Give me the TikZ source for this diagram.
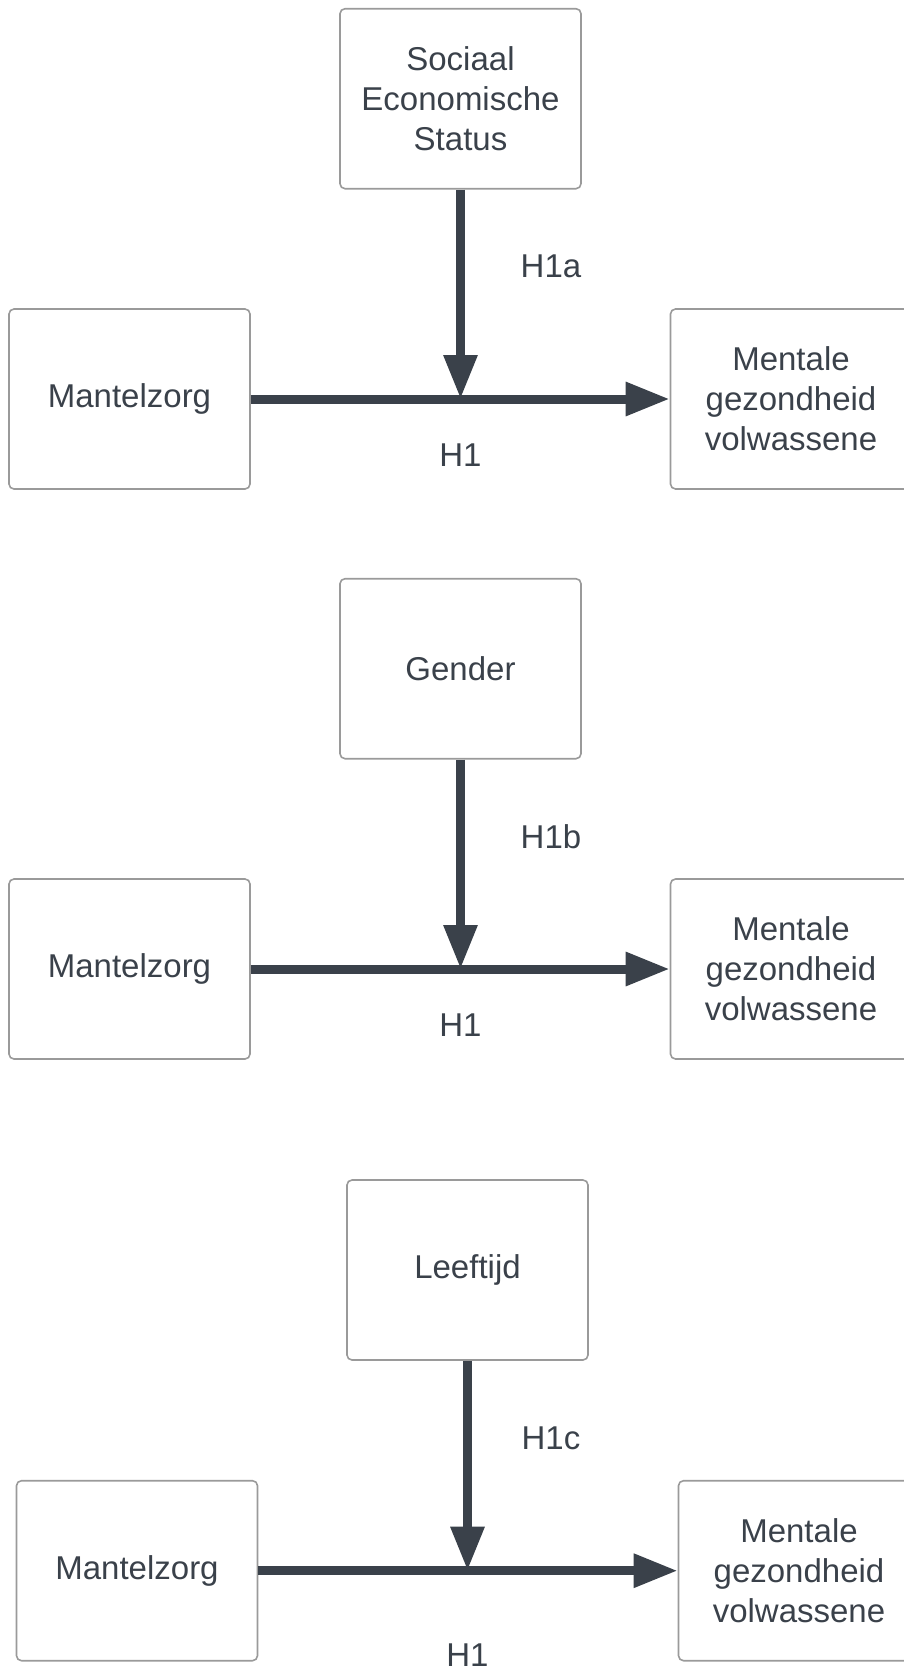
\documentclass[tikz,border=0pt]{standalone}
\usepackage{fontspec}
\setmainfont{Liberation Sans}
\usetikzlibrary{arrows.meta}

\definecolor{ink}{HTML}{3A414A}
\definecolor{rim}{HTML}{9A9A9A}

\tikzset{
  box/.style={draw=rim, line width=0.8pt, rounded corners=2.5pt, minimum width=120.5pt, minimum height=90pt, inner sep=0pt, align=center, text=ink, font=\fontsize{16.5}{20}\selectfont},
  lbl/.style={text=ink, font=\fontsize{16.5}{20}\selectfont},
  link/.style={draw=ink, line width=4.5pt, -{Triangle[length=22pt,width=16pt]}}
}

\begin{document}
\begin{tikzpicture}[x=0.5pt,y=-0.5pt]

\useasboundingbox (0,0) rectangle (904,1671);

\node[box] (mod_1) at (460.5,98.7) {Sociaal\\Economische\\Status};
\node[box] (mz_1) at (129.5,399) {Mantelzorg};
\node[box] (mg_1) at (791,399) {Mentale\\gezondheid\\volwassene};
\coordinate (x_1) at (mod_1.south |- mz_1.east);
\draw[link] (mz_1.east) -- (mg_1.west);
\draw[link] (mod_1.south) -- (x_1);
\node[lbl] (h_1a) at (551,266.5) {H1a};
\node[lbl] (h_1) at (460.5,455) {H1};

\node[box] (mod_2) at (460.5,668.7) {Gender};
\node[box] (mz_2) at (129.5,969) {Mantelzorg};
\node[box] (mg_2) at (791,969) {Mentale\\gezondheid\\volwassene};
\coordinate (x_2) at (mod_2.south |- mz_2.east);
\draw[link] (mz_2.east) -- (mg_2.west);
\draw[link] (mod_2.south) -- (x_2);
\node[lbl] (h_1b) at (551,836.5) {H1b};
\node[lbl] (h_2) at (460.5,1025.5) {H1};

\node[box] (mod_3) at (467.5,1270) {Leeftijd};
\node[box] (mz_3) at (137,1570.7) {Mantelzorg};
\node[box] (mg_3) at (799,1570.7) {Mentale\\gezondheid\\volwassene};
\coordinate (x_3) at (mod_3.south |- mz_3.east);
\draw[link] (mz_3.east) -- (mg_3.west);
\draw[link] (mod_3.south) -- (x_3);
\node[lbl] (h_1c) at (551,1438) {H1c};
\node[lbl] (h_3) at (467.5,1655.5) {H1};

\end{tikzpicture}
\end{document}
